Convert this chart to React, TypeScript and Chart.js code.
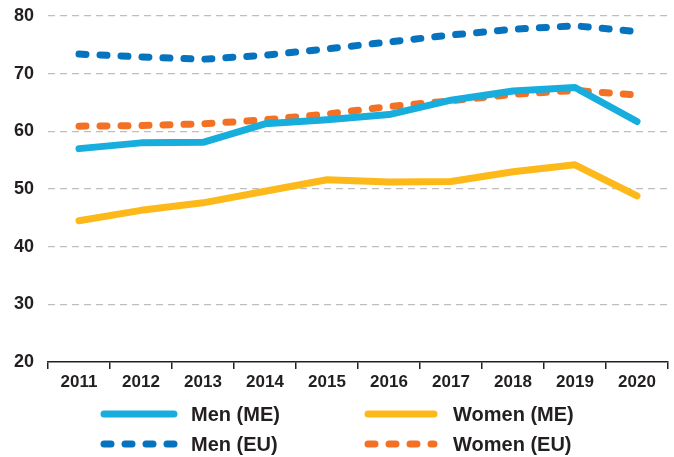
import React, { useEffect, useRef } from "react";
import { Chart, registerables } from "chart.js";

Chart.register(...registerables);

const years = ["2011", "2012", "2013", "2014", "2015", "2016", "2017", "2018", "2019", "2020"];
const menME = [57.0, 58.0, 58.1, 61.3, 62.0, 62.9, 65.4, 67.0, 67.6, 61.7];
const womenME = [44.5, 46.3, 47.6, 49.6, 51.6, 51.2, 51.3, 53.0, 54.2, 48.8];
const menEU = [73.4, 72.9, 72.5, 73.2, 74.3, 75.5, 76.7, 77.7, 78.3, 77.3];
const womenEU = [60.9, 61.0, 61.3, 62.0, 63.0, 64.3, 65.3, 66.4, 67.1, 66.3];
const seriesLabels = ["Men (ME)", "Women (ME)", "Men (EU)", "Women (EU)"];
const yTicks = [20, 30, 40, 50, 60, 70, 80];

const FONT = "'Liberation Sans', Arial, sans-serif";
const TEXT = "#231F20";

const legendPlugin = {
  id: "customLegend",
  afterDraw(chart: any) {
    const ctx = chart.ctx;
    const cols = [{ x0: 104, x1: 174, tx: 191 }, { x0: 368, x1: 434, tx: 453 }];
    const rows = [414, 444];
    ctx.save();
    chart.data.datasets.forEach((ds: any, i: number) => {
      const c = cols[i % 2];
      const y = rows[Math.floor(i / 2)];
      ctx.beginPath();
      ctx.lineWidth = 7;
      ctx.lineCap = "round";
      ctx.strokeStyle = ds.borderColor;
      ctx.setLineDash(ds.borderDash || []);
      ctx.moveTo(c.x0, y);
      ctx.lineTo(c.x1, y);
      ctx.stroke();
      ctx.setLineDash([]);
      ctx.fillStyle = TEXT;
      ctx.font = `bold 20px ${FONT}`;
      ctx.textBaseline = "middle";
      ctx.textAlign = "left";
      ctx.fillText(ds.label, c.tx, y + 1);
    });
    ctx.restore();
  },
};

export default function App() {
  const ref = useRef<HTMLCanvasElement>(null);
  useEffect(() => {
    if (!ref.current) return;
    const chart = new Chart(ref.current, {
      type: "line",
      data: {
        labels: years,
        datasets: [
          { label: seriesLabels[0], data: menME, borderColor: "#17AEDD", borderWidth: 7, pointRadius: 0, borderJoinStyle: "round", borderCapStyle: "round", tension: 0 },
          { label: seriesLabels[1], data: womenME, borderColor: "#FDB91A", borderWidth: 7, pointRadius: 0, borderJoinStyle: "round", borderCapStyle: "round", tension: 0 },
          { label: seriesLabels[2], data: menEU, borderColor: "#0573BE", borderWidth: 7, pointRadius: 0, borderDash: [7, 14], borderCapStyle: "round", borderJoinStyle: "round", tension: 0 },
          { label: seriesLabels[3], data: womenEU, borderColor: "#F37124", borderWidth: 7, pointRadius: 0, borderDash: [7, 14], borderCapStyle: "round", borderJoinStyle: "round", tension: 0 },
        ],
      } as any,
      options: {
        animation: false,
        responsive: false,
        maintainAspectRatio: false,
        layout: { autoPadding: false, padding: { top: 16, right: 6, bottom: 65, left: 0 } },
        plugins: { legend: { display: false }, tooltip: { enabled: false } },
        scales: {
          x: {
            offset: true,
            grid: { offset: true, drawOnChartArea: false, drawTicks: true, tickLength: 7, color: TEXT, lineWidth: 1.5 },
            border: { display: true, color: TEXT, width: 1.5 },
            ticks: { color: TEXT, font: { family: FONT, size: 17, weight: "bold" }, padding: 3, maxRotation: 0 },
            afterFit(scale: any) { scale.height = 30; scale.paddingLeft = 0; scale.paddingRight = 0; },
          },
          y: {
            min: 20,
            max: 80,
            afterBuildTicks(scale: any) { scale.ticks = yTicks.map((v) => ({ value: v })); },
            grid: { drawTicks: false, color: (c: any) => (c.tick && c.tick.value === 20 ? "rgba(0,0,0,0)" : "#BEBEBE"), lineWidth: 1.2 },
            border: { display: false, dash: [7, 5] },
            ticks: { color: TEXT, font: { family: FONT, size: 18, weight: "bold" }, padding: 14 },
            afterFit(scale: any) { scale.width = 48; scale.paddingTop = 0; scale.paddingBottom = 0; },
          },
        },
      } as any,
      plugins: [legendPlugin],
    });
    return () => chart.destroy();
  }, []);
  return (
    <div style={{ position: "fixed", left: 0, top: 0, width: 674, height: 457, background: "#fff" }}>
      <canvas ref={ref} width={674} height={457} style={{ width: 674, height: 457 }} />
    </div>
  );
}
